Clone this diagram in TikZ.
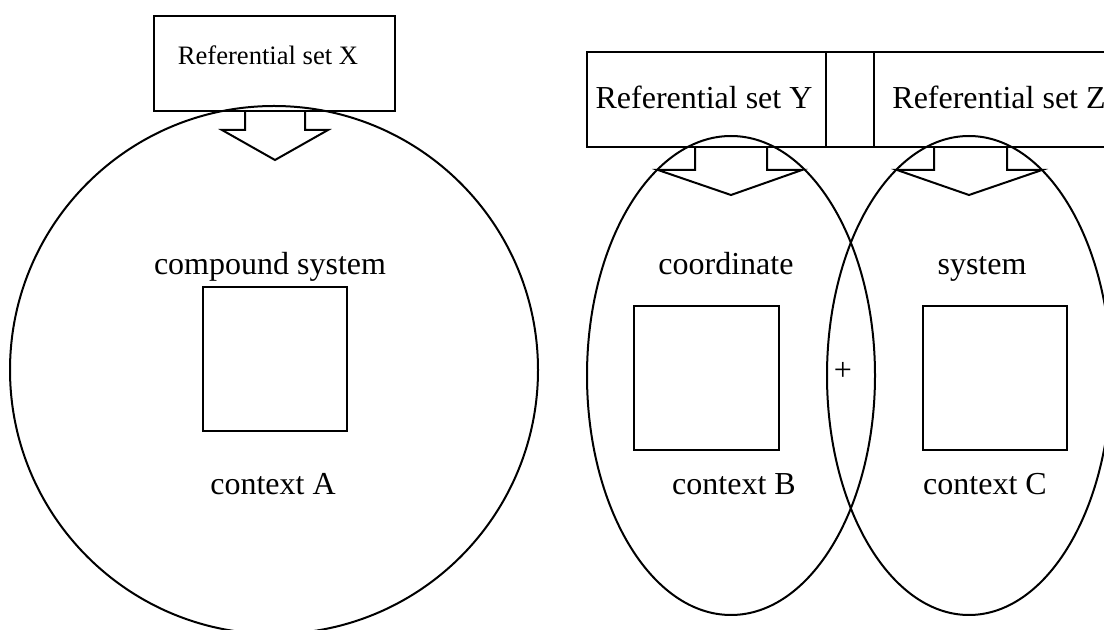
\documentclass[tikz,border=0pt]{standalone}
\usepackage{fontspec}
\setmainfont{Liberation Serif}

\tikzstyle{txt} = [anchor=base,font=\fontsize{16}{19}\selectfont]
\tikzstyle{smalltxt} = [anchor=base,font=\fontsize{13.3}{16}\selectfont]
\tikzstyle{outline} = [line width=1pt]
\tikzstyle{sq} = [line width=1.2pt]

\begin{document}
\begin{tikzpicture}[x=0.5pt,y=-0.5pt]
	\useasboundingbox (0,0) rectangle (1104,630);
	\clip (0,0) rectangle (1104,630);
	% left part
	\draw[outline] (154,16) rectangle (395,111);
	\node[smalltxt] (refx) at (268,65) {Referential set X};
	\draw[outline] (245,111) -- (245,130) -- (222,130) -- (275,160) -- (328,130) -- (305,130) -- (305,111);
	\draw[outline] (274,370) circle [radius=264];
	\draw[sq] (203,287) rectangle (347,431);
	\node[txt] (cs) at (270,275) {compound system};
	\node[txt] (ca) at (273,495) {context A};
	% right part
	\draw[outline] (587,52) rectangle (1120,147);
	\draw[outline] (826,52) -- (826,147);
	\draw[outline] (874,52) -- (874,147);
	\node[txt] (refy) at (704,109) {Referential set Y};
	\node[txt,anchor=base west,inner sep=0pt] (refz) at (892,109) {Referential set Z};
	\draw[outline] (695,147) -- (695,170) -- (658,170) -- (731,195) -- (802,170) -- (767,170) -- (767,147);
	\draw[outline] (934,147) -- (934,170) -- (897,170) -- (969,195) -- (1042,170) -- (1007,170) -- (1007,147);
	\draw[outline] (731,375.5) ellipse [x radius=144, y radius=239.5];
	\draw[outline] (969,375.5) ellipse [x radius=142, y radius=239.5];
	\draw[sq] (634,306) rectangle (779,450);
	\draw[sq] (923,306) rectangle (1067,450);
	\node[txt] (co) at (726,275) {coordinate};
	\node[txt] (sy) at (982,275) {system};
	\node[txt] (cb) at (734,495) {context B};
	\node[txt] (cc) at (985,495) {context C};
	\node[txt] (plus) at (843,381) {+};
\end{tikzpicture}
\end{document}
